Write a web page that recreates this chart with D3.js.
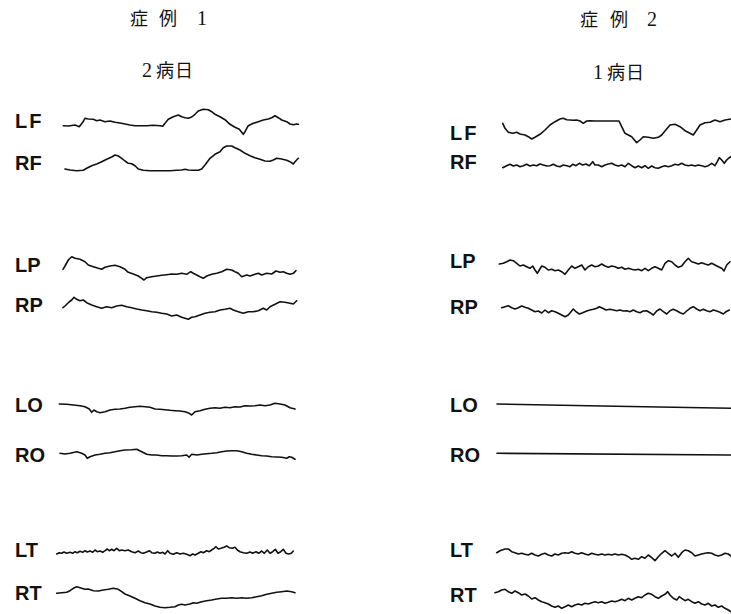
<!DOCTYPE html>
<html><head><meta charset="utf-8">
<script src="https://cdn.jsdelivr.net/npm/d3@7"></script>
<style>html,body{margin:0;padding:0;background:#fff;}svg{display:block;}</style>
</head><body>
<script>
// ---- data (time in samples, amplitude in arbitrary units, up = positive) ----
const channels = ["LF","RF","LP","RP","LO","RO","LT","RT"];
const caseTitles = ["症 例 1","症 例 2"];
const dayLabels = ["2病日","1病日"];

const case1_LF = [[0.3,-0.7],[5.3,-1],[12,0],[16.3,-1.7],[19.7,2.7],[22,6.7],[25.3,6],[30.3,5.7],[33.7,4.3],[37,5],[42,3.3],[47,4],[52,2.7],[57,2],[62,1],[67,0],[72,-0.7],[77,-0.7],[83.7,-0.7],[90.3,-0.3],[97,-0.7],[99.7,-1.3],[102,1.7],[105.3,5.7],[110.3,8.3],[115.3,10],[118.7,8.3],[122,7.3],[125.3,6.7],[128.7,8],[132,10.7],[135.3,14],[140.3,15.7],[145.3,15.3],[148.7,13.3],[152,10.7],[157,8.3],[162,5.3],[167,0.7],[172,-2.3],[176.3,-4.3],[178.7,-7.3],[180.3,-9.3],[182,-6.7],[185.3,-0.7],[190.3,1.7],[195.3,3.3],[200.3,5],[205.3,6],[208.7,7.3],[212,9.3],[215.3,7.3],[218.7,5],[223.7,3.3],[227,1],[230.3,0.3],[233.7,1],[235.3,0.7]];
const case1_RF = [[2,-4],[7,-5],[13.7,-5.7],[20.3,-5.3],[23.7,-3.3],[28.7,-0.7],[33.7,1],[38.7,3.3],[43.7,5.7],[48.7,8],[52,10],[55.3,9],[58.7,6.7],[62,4],[65.3,1.7],[68.7,1.3],[72,-0.7],[75.3,-4],[80.3,-5.3],[87,-5.7],[93.7,-5.7],[100.3,-5.7],[107,-5.7],[113.7,-5.3],[118.7,-5],[122,-4.3],[125.3,-5],[130.3,-5.3],[135.3,-5.3],[138.7,-4],[142,0],[147,6.7],[152,10.7],[157,13.3],[160.3,17.3],[163.7,19],[168.7,19],[172,17.3],[177,15],[182,11.7],[187,9.3],[192,7.3],[197,5.7],[202,4],[207,3.7],[210.3,5],[213.7,6.7],[218.7,6],[223.7,4.7],[227,3.3],[230.3,1],[232,3.3],[235.3,6.7]];
const case1_LP = [[0,-2.3],[2,1],[5.3,7],[8.7,10.3],[12,8.7],[17,7.7],[22,5.3],[25.3,2],[30.3,0.3],[35.3,-1.3],[38.7,-2.3],[42,-0.3],[47,1],[52,1.7],[57,0.3],[62,-2.3],[65.3,-5.3],[70.3,-7],[75.3,-9],[78.7,-11.3],[81,-13],[83.7,-10.7],[88.7,-9.7],[93.7,-9],[98.7,-8.3],[103.7,-7.7],[108.7,-7],[113.7,-7.3],[118.7,-6.3],[123.7,-7.3],[127.7,-4.7],[130.3,-6.3],[133.7,-8],[137,-9.7],[140.3,-11.3],[143.7,-9],[148.7,-7.3],[153.7,-6.3],[158.7,-4.7],[163.7,-2.3],[168.7,-3],[172,-4.7],[175.3,-6.3],[178.7,-9.7],[183.7,-8],[187,-9],[192,-7.3],[195.3,-6.3],[198.7,-8],[203.7,-6.3],[208.7,-7],[213,-4],[217,-5.3],[220.3,-4.7],[223.7,-6.3],[227,-7.3],[230.3,-6.3],[233,-3.7]];
const case1_RP = [[0,-2.7],[2,-1],[5.3,2.3],[8.7,5],[11,7.7],[13.7,5.7],[17,4.3],[20.3,5],[23.7,2.3],[28.7,0],[33.7,-1.7],[38.7,-3.3],[43.7,-1.7],[48.7,-2.7],[53.7,-1],[58.7,-0.3],[63.7,-1.7],[68.7,-2.7],[73.7,-4],[78.7,-5],[83.7,-5.7],[88.7,-6.7],[93.7,-7.3],[98.7,-8.3],[103.7,-9],[108.7,-11],[113.7,-10],[118.7,-12.3],[122,-13.3],[125.3,-14.3],[128.7,-12.3],[132,-11.7],[137,-10],[142,-8.3],[147,-7.3],[152,-6.7],[157,-5],[162,-4.3],[167,-3.3],[170.3,-5],[175.3,-6.7],[180.3,-8.3],[185.3,-6.7],[190.3,-6.7],[195.3,-5.7],[200.3,-3.3],[203.7,-5],[207,-1.7],[212,0.7],[217,3.3],[222,2.7],[227,1.7],[230.3,1],[233.7,4.3]];
const case1_LO = [[-3.7,4],[3.7,3.7],[10.3,3],[17,2.3],[22,1.3],[26.3,-1],[28.7,-4.3],[31,-2],[33.7,-3.7],[37,-4.7],[42,-3.7],[47,-2],[52,-1.3],[57,-1],[62,-0.3],[67,0.7],[72,1.3],[77,1.7],[82,1.3],[87,0.7],[92,-1],[97,-1.3],[102,-1.7],[107,-2.3],[112,-2.7],[117,-3],[122,-3.7],[126.3,-5.3],[128.7,-7],[132,-3.7],[137,-2.7],[142,-1.3],[147,-0.3],[152,0.3],[157,-0.3],[162,0.7],[167,0.3],[172,1.3],[177,1],[182,2.3],[187,2],[192,2.3],[197,3],[202,2.3],[207,3],[212,4.7],[217,4],[222,3],[227,0.3],[232,-1]];
const case1_RO = [[-3,0.7],[2,0],[7,0.7],[13.7,2.3],[18.7,0.7],[22,-1],[24.3,-4.3],[27,-2.7],[32,-1],[37,-0.3],[42,0.7],[47,1.3],[52,2.3],[57,3.3],[62,4],[68.7,4.3],[73.7,4.7],[78.7,2.3],[83.7,-0.3],[88.7,-1],[93.7,-1],[98.7,-1.7],[103.7,-1.7],[108.7,-2],[113.7,-2],[118.7,-1.7],[123.7,-1],[126,-3.3],[128.7,-0.3],[133.7,-1],[138.7,-0.3],[143.7,0.3],[148.7,0.7],[153.7,1.3],[158.7,2.3],[163.7,3],[168.7,3.3],[173.7,3.3],[178.7,2.3],[183.7,0.7],[188.7,-0.3],[193.7,-1],[198.7,-1.7],[203.7,-2],[208.7,-2.7],[213.7,-3],[218.7,-3.3],[223.7,-4.3],[226.3,-2.7],[228.7,-3.3],[232,-5.3]];
const case1_LT = [[-6.3,-4],[-3.7,-2.7],[-1.3,-3.3],[1,-2],[3.7,-3.3],[7,-2.3],[9.7,-3.3],[12,-1.7],[14.3,-2.7],[17,-1.3],[19.7,-2.3],[22,-0.7],[24.3,-2],[27,-1],[29.7,-2.3],[32,0],[34.3,-1.7],[37,-1],[39.7,-2.3],[42,-0.7],[44.3,1],[46.3,-0.7],[48.7,0.7],[51,-0.7],[53.7,1.7],[56.3,-0.7],[58.7,0],[62,-0.7],[65.3,0],[68.7,-1.7],[72,-2.7],[75.3,-1],[77.7,-2.7],[80.3,-3.3],[83.7,-2],[86.3,-0.7],[88.7,-2.7],[92,-3.3],[94.3,-2],[97,-3.3],[99.7,-2.3],[102,-4],[104.7,-0.7],[107,-3.3],[110.3,-4.3],[113.7,-2.7],[117,-4],[120.3,-3.3],[123.7,-4.3],[127,-5.7],[129.7,-4],[132,-5],[135.3,-3.3],[138,-1.7],[140.3,-2.7],[143.7,-0.7],[146.3,-1.7],[148.7,0],[151,1.7],[153,3.3],[155.3,1],[158,1.7],[161,2.7],[163.7,4],[166.3,2.3],[169.3,1.7],[172,2.7],[174.3,0],[177,-1.7],[180.3,-2.7],[183.7,-3.3],[187,-2],[189.7,-3.3],[193,-1.7],[195.7,-3.3],[198.7,-1],[201.3,-3.3],[204.3,0],[207,-3.3],[209.7,-1.7],[212.3,0.7],[215,-3.3],[217.7,-1.7],[220.3,0.7],[223,-3.3],[225.7,-4],[228.3,-3.3],[230.3,-1]];
const case1_RT = [[-6.3,1.7],[-1.3,2.3],[3.7,2.7],[7,4.3],[10.3,6.7],[13.7,8.3],[17,7.3],[22,5.7],[25.3,6],[30.3,4.3],[35.3,4],[40.3,5],[45.3,5.7],[50.3,6.7],[55.3,5.7],[58.7,3.3],[62,1],[67,-1],[72,-3.3],[77,-5.7],[82,-7.7],[87,-9],[92,-11],[97,-12.3],[102,-12.7],[107,-12.3],[112,-11.7],[115.3,-10],[118.7,-9.3],[122,-10],[127,-9],[130.3,-7.7],[133.7,-8.3],[138.7,-6.7],[143.7,-5.7],[148.7,-5],[153.7,-4],[158.7,-3.3],[163.7,-3.3],[168.7,-2.7],[173.7,-3.3],[178.7,-2.7],[183.7,-3.3],[188.7,-2.7],[193.7,-1.7],[198.7,-0.7],[203.7,0.7],[208.7,1.7],[213.7,2.7],[218.7,3.3],[223.7,4],[228.7,3.3],[232,2.3]];

const case2_LF = [[0.7,6.7],[3,1.7],[6.3,-2.3],[10.7,-3.3],[14.7,-2.3],[18,-4],[23,-5],[26.3,-6.7],[29.7,-9],[33,-7.3],[38,-4.3],[43,0],[48,5],[53,8.3],[58,11],[61.3,11.7],[64.7,10.3],[68,10],[71.3,9.7],[74.7,10],[78,9],[81.3,6.7],[84.7,9],[88,9.3],[93,9],[98,9],[103,9],[108,9],[113,9],[117,9],[119.7,3.3],[123,-3.3],[126.3,-5],[129.7,-6.7],[134.7,-12.7],[138,-10],[141.3,-6.7],[146.3,-7.3],[151.3,-8.3],[156.3,-7.3],[159.7,-5],[163,-1],[168,5],[173,5.7],[178,3.3],[183,-0.7],[188,-3.3],[191.3,-5],[194.7,0],[198,5],[203,7.3],[208,7.7],[213,10],[218,8.3],[223,10],[229,11]];
const case2_RF = [[0.7,-2.7],[4.7,-0.7],[8,0.7],[11.3,-1],[14.7,0],[18,-1.7],[21.3,-0.7],[24.7,0.7],[28,-1],[31.3,0],[34.7,-0.7],[38,1],[41.3,0],[44.7,-1],[48,-0.7],[51.3,0.7],[54.7,-1],[58,-1.7],[61.3,0],[64.7,-0.7],[68,-1.7],[70.7,0.7],[74,-0.7],[77.3,1.7],[80.7,0],[84,1],[87.3,-0.7],[90.7,3.3],[93,0],[96.3,0],[99.7,-1.7],[103,0],[106.3,1],[109.7,1.7],[113,0],[116.3,-1],[119.7,0],[123,-1.7],[126.3,1.7],[129.7,-0.7],[133,-2.7],[136.3,-1],[139.7,-2.7],[143,-0.7],[146.3,-3.3],[149.7,-1],[153,-2.7],[156.3,-3.3],[159.7,-1.7],[163,-0.7],[166.3,-1.7],[169.7,-0.7],[173,0.7],[176.3,0],[179.7,1.7],[183,0],[186.3,-0.7],[189.7,0],[193,-1],[196.3,0],[199.7,-0.7],[203,-1.7],[206.3,-0.7],[209.7,1.7],[213,-0.7],[215.3,3.3],[217.3,7.3],[219.7,5],[222.3,1.7],[224.7,5],[227.3,7.3],[229,8.3]];
const case2_LP = [[-2.7,1],[1.3,1.7],[4.7,3.3],[8,5],[11.3,4.3],[14.7,1.7],[18,-1],[21.3,0],[24.7,-1.7],[28,-3.3],[30.7,-1],[33,-5],[35.3,-8.3],[37.3,-5],[39.7,-1],[43,-2.3],[46.3,-5],[49.7,-4.3],[53,-5.7],[56.3,-5],[59.7,-6.7],[63,-9.3],[66.3,-5],[69.7,-1],[73,-3.3],[76.3,-1.7],[79.7,0],[83,-5],[86.3,-1.7],[89.7,0],[93,-1.7],[96.3,-1],[99.7,1],[103,-1],[106.3,-2.3],[109.7,-1],[113,-1.7],[116.3,-3.3],[119.7,-2.3],[123,-4.3],[126.3,-3.3],[129.7,-4.3],[133,-5],[136.3,-4.3],[139.7,-5.7],[143,-3.3],[146.3,-5.7],[149.7,-3.3],[153,-1.7],[156.3,-3.3],[159.7,-5],[163,1.7],[166.3,4.3],[169.7,3.3],[173,0],[176.3,-2.3],[179.7,-1],[183,3.3],[186.3,6.7],[189.7,3.3],[193,2.3],[196.3,1],[199.7,2.3],[203,1],[206.3,0],[209.7,1.7],[213,0],[216.3,-1.7],[219.7,-3.3],[222,-6],[224.7,0],[228,3.3]];
const case2_RP = [[-0.3,0.3],[3,1.3],[6.3,2.3],[9.7,0.3],[13,-1],[16.3,0.3],[19.7,2],[23,0.7],[26.3,-0.3],[29.7,-2],[33,-3.7],[36.3,-3],[39.7,-5],[43,-2],[46.3,-4.7],[49.7,-2.7],[53,-3.7],[56.3,-5.3],[59.7,-7],[63,-8.7],[66.3,-7],[69,-3.7],[71.3,-1],[74,-3.7],[77.3,-6],[80.7,-4.7],[84.7,-3],[88,-2],[91.3,-1.3],[94.7,-0.3],[97.3,1.3],[100.7,-0.3],[104,-2],[108,-1.3],[111.3,-2],[114.7,-2.7],[118,-2],[121.3,-3],[124.7,-2.7],[128,-3.7],[131.3,-2],[134.7,-3.7],[138,-4.7],[141.3,-3],[144.7,-2.7],[148,-4.7],[151.3,-7],[154.7,-3],[158,-1],[161.3,-3.7],[164.7,-6],[168,-2.7],[171.3,-1.3],[174.7,-2.7],[178,-4.7],[181.3,-6],[184.7,-3],[188,-0.3],[191.3,1.3],[194.7,-1],[198,-2.7],[201.3,-1.3],[204.7,-2.7],[208,-3.7],[211.3,-2],[214.7,-3],[218,-4.3],[221.3,-6],[224,-3.7],[227.3,-2]];
const case2_LO = [[-5,1],[100,-1],[229,-3.3]];
const case2_RO = [[-5,1.7],[229,0]];
const case2_LT = [[-5.3,-0.7],[-2,1.3],[3,3],[6.3,3],[9.7,0.3],[13,-0.7],[16.3,-2],[19.7,-1.3],[23,-2.3],[26.3,-3],[29.7,-1.3],[33,-3],[36.3,-4],[39.7,-2.3],[43,-1.3],[46.3,-3],[49.7,-4],[53,-2],[56.3,-3],[59.7,-1.3],[63,-0.7],[66.3,-1.3],[69.7,0.3],[73,-1.3],[76.3,-2],[79.7,-0.7],[83,-2],[86.3,-3],[89.7,-1.3],[93,-2.3],[96.3,-3],[99.7,-2],[103,-3],[106.3,-2.3],[109.7,-3],[113,-2],[116.3,-3],[119.7,-2.3],[123,-3],[126.3,-4.7],[129.7,-7.3],[133,-6.3],[136.3,-7.3],[139.7,-4.7],[143,-6.3],[146.3,-3],[149.7,-5.7],[153,-8.7],[156.3,-4.7],[159.7,-1.3],[163,1.3],[166.3,-1.3],[169.7,-4],[173,-1.3],[176.3,-5.3],[179.7,-0.7],[183,2],[186.3,1.3],[189.7,-0.7],[193,-4],[196.3,-3],[199.7,-2],[203,-1.3],[206.3,-0.7],[209.7,-1.3],[213,-3],[216.3,-4],[219.7,-3],[223,-1.3],[226.3,-2],[229,-4]];
const case2_RT = [[-7,4.3],[-3.7,5.3],[-0.3,7],[3,7.7],[6.3,5.3],[9.7,3.7],[13,6],[16.3,4.3],[19.7,2],[23,3],[26.3,1],[29.7,-2],[33,-0.7],[36.3,-3],[39.7,-4.7],[43,-5.7],[46.3,-7],[49.7,-9],[53,-10.3],[56.3,-9],[59.7,-11.3],[63,-9.7],[66.3,-8],[69.7,-9.7],[73,-8],[76.3,-7],[79.7,-8],[83,-6.3],[86.3,-7],[89.7,-5.7],[93,-4.7],[96.3,-5.7],[99.7,-4.7],[103,-6.3],[106.3,-5.3],[109.7,-4],[113,-4.7],[116.3,-3.7],[119.7,-2.3],[123,-3.7],[126.3,-1.3],[129.7,-3],[133,-1.3],[136.3,0.3],[139.7,-0.7],[143,2],[146.3,3.7],[149.7,2.7],[153,0.3],[156.3,-1.3],[159.7,1],[163,2.7],[165.7,5.3],[168,2],[171.3,-1.3],[174.7,-3],[177.3,0.3],[179.7,-1.3],[183,-3.7],[186.3,-2.3],[189.7,-4.7],[193,-6.3],[196.3,-4.7],[199.7,-7],[203,-8],[206.3,-6.3],[209.7,-9],[213,-8],[216.3,-10.3],[219.7,-9],[223,-11.3],[226.3,-13],[229,-14.7]];

// ---- layout ----
const W = 731, H = 614;
const panels = [
  { title: caseTitles[0], day: dayLabels[0], labelX: 15, x0: 63,
    titleX: [130, 159, 197], titleY: 25, dayX: [142, 156, 175], dayY: 77,
    series: [case1_LF, case1_RF, case1_LP, case1_RP, case1_LO, case1_RO, case1_LT, case1_RT],
    rowY:   [125, 165, 267, 305, 408, 454, 550, 595],
    labelY: [128, 170, 272, 312, 412, 462, 557, 600] },
  { title: caseTitles[1], day: dayLabels[1], labelX: 450, x0: 502,
    titleX: [580, 610, 647], titleY: 26, dayX: [593, 607, 626], dayY: 79,
    series: [case2_LF, case2_RF, case2_LP, case2_RP, case2_LO, case2_RO, case2_LT, case2_RT],
    rowY:   [130, 165, 265, 308, 405, 455, 552, 597],
    labelY: [140, 169, 268, 314, 412, 462, 557, 602] }
];

const svg = d3.select("body").append("svg").attr("width", W).attr("height", H);
const isDigit = c => /[0-9]/.test(c);

panels.forEach(p => {
  const x = d3.scaleLinear().domain([0, 235]).range([p.x0, p.x0 + 235]);
  const g = svg.append("g");

  // titles: each glyph placed individually (wide spacing as in the print)
  const titleChars = p.title.split(" ");
  titleChars.forEach((c, k) => {
    g.append("text").attr("x", p.titleX[k]).attr("y", p.titleY)
      .attr("font-family", isDigit(c) ? "'Liberation Serif', serif" : "'Noto Sans CJK JP', sans-serif")
      .attr("font-size", isDigit(c) ? 20 : 18).attr("fill", "#111").text(c);
  });
  Array.from(p.day).forEach((c, k) => {
    g.append("text").attr("x", p.dayX[k]).attr("y", p.dayY)
      .attr("font-family", isDigit(c) ? "'Liberation Serif', serif" : "'Noto Sans CJK JP', sans-serif")
      .attr("font-size", isDigit(c) ? 20 : 18).attr("fill", "#111").text(c);
  });

  channels.forEach((ch, i) => {
    const y = d3.scaleLinear().domain([-20, 20]).range([p.rowY[i] + 20, p.rowY[i] - 20]);
    const line = d3.line().x(e => x(e[0])).y(e => y(e[1])).curve(d3.curveLinear);
    g.append("path").datum(p.series[i]).attr("d", line)
      .attr("fill", "none").attr("stroke", "#111").attr("stroke-width", 1.6)
      .attr("stroke-linejoin", "round").attr("stroke-linecap", "round");
    g.append("text").attr("x", p.labelX).attr("y", p.labelY[i])
      .attr("font-family", "'Liberation Sans', Arial, sans-serif").attr("font-weight", "bold")
      .attr("font-size", 20).attr("letter-spacing", ch === "LF" ? 2 : 0).attr("fill", "#111").text(ch);
  });
});
</script>
</body></html>
